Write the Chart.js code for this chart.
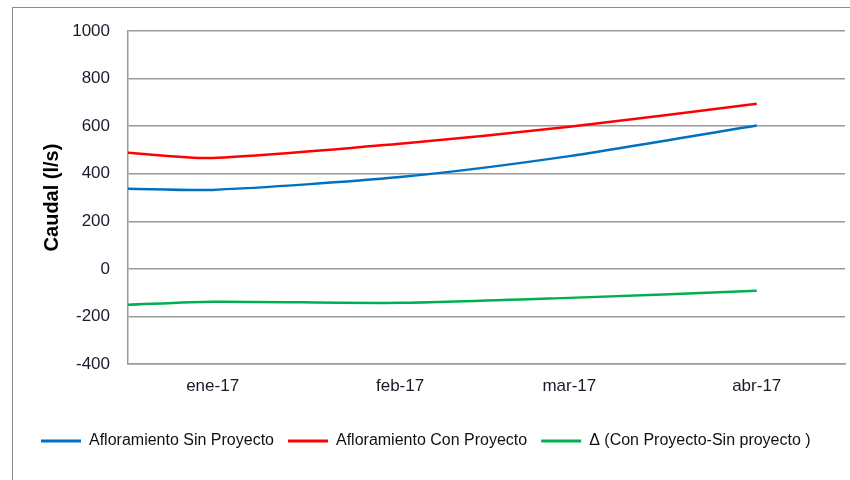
<!DOCTYPE html>
<html>
<head>
<meta charset="utf-8">
<script src="https://cdn.jsdelivr.net/npm/chart.js@4"></script>
<style>
  html, body { margin: 0; padding: 0; background: #fff; }
  #wrap { position: relative; width: 850px; height: 480px; overflow: hidden; }
  #frame { position: absolute; left: 12px; top: 7px; width: 900px; height: 520px; border: 1px solid #8c8c8c; }
  canvas { position: absolute; left: 0; top: 0; }
</style>
</head>
<body>
<div id="wrap">
  <div id="frame"></div>
  <canvas id="chart" width="850" height="480"></canvas>
</div>
<script>
// dias contados desde el 1 de enero de 2017
const dias = [-14, 0, 31, 59, 90];
const sinProyecto = [337, 332, 386, 474, 603];
const conProyecto = [488, 466, 526, 597, 694];
const delta = [-151, -138, -143, -122, -92];

const tickDias = [0, 31, 59, 90];
const tickMeses = ['ene-17', 'feb-17', 'mar-17', 'abr-17'];

const FONT = "'Liberation Sans', Arial, sans-serif";

function serie(label, values, color) {
    return {
        label: label,
        data: values.map((v, i) => ({ x: dias[i], y: v })),
        borderColor: color,
        backgroundColor: color,
        borderWidth: 2.5,
        pointRadius: 0,
        tension: 0.25
    };
}

const config = {
    type: 'line',
    data: {
        datasets: [
            serie('Afloramiento Sin Proyecto', sinProyecto, '#0070C0'),
            serie('Afloramiento Con Proyecto', conProyecto, '#FF0000'),
            serie('\u0394 (Con Proyecto-Sin proyecto )', delta, '#00B050')
        ]
    },
    options: {
        responsive: false,
        animation: false,
        layout: { padding: { left: 27, right: 5, top: 31, bottom: 21 } },
        plugins: {
            tooltip: { enabled: false },
            legend: {
                position: 'bottom',
                align: 'start',
                labels: {
                    color: '#111',
                    font: { family: FONT, size: 16 },
                    boxWidth: 40,
                    boxHeight: 3,
                    padding: 14,
                    generateLabels: (chart) => {
                        const items = Chart.defaults.plugins.legend.labels.generateLabels(chart);
                        items.forEach(it => { it.lineWidth = 0; it.fillStyle = it.strokeStyle; });
                        return items;
                    }
                }
            }
        },
        scales: {
            x: {
                type: 'linear',
                min: -14,
                max: 104.6,
                grid: { display: false },
                border: { display: true, color: '#9a9a9a', width: 1.5 },
                afterBuildTicks: (scale) => { scale.ticks = tickDias.map(v => ({ value: v })); },
                afterFit: (scale) => { scale.height = 55; },
                ticks: {
                    color: '#1a1a2a',
                    font: { family: FONT, size: 17 },
                    padding: 4,
                    maxRotation: 0,
                    autoSkip: false,
                    callback: (v) => tickMeses[tickDias.indexOf(v)] ?? ''
                }
            },
            y: {
                min: -400,
                max: 1000,
                grid: { color: '#9a9a9a', lineWidth: 1.5, drawTicks: false },
                border: { display: true, color: '#9a9a9a', width: 1.5 },
                afterFit: (scale) => { scale.width = 101; },
                ticks: {
                    stepSize: 200,
                    color: '#1a1a2a',
                    font: { family: FONT, size: 17 },
                    padding: 18,
                    callback: (v) => String(v)
                },
                title: {
                    display: true,
                    text: 'Caudal (l/s)',
                    color: '#000',
                    padding: { top: 13, bottom: 4 },
                    font: { family: FONT, size: 20, weight: 'bold' }
                }
            }
        }
    }
};

const ctx = document.getElementById('chart').getContext('2d');
const myChart = new Chart(ctx, config);
</script>
</body>
</html>
